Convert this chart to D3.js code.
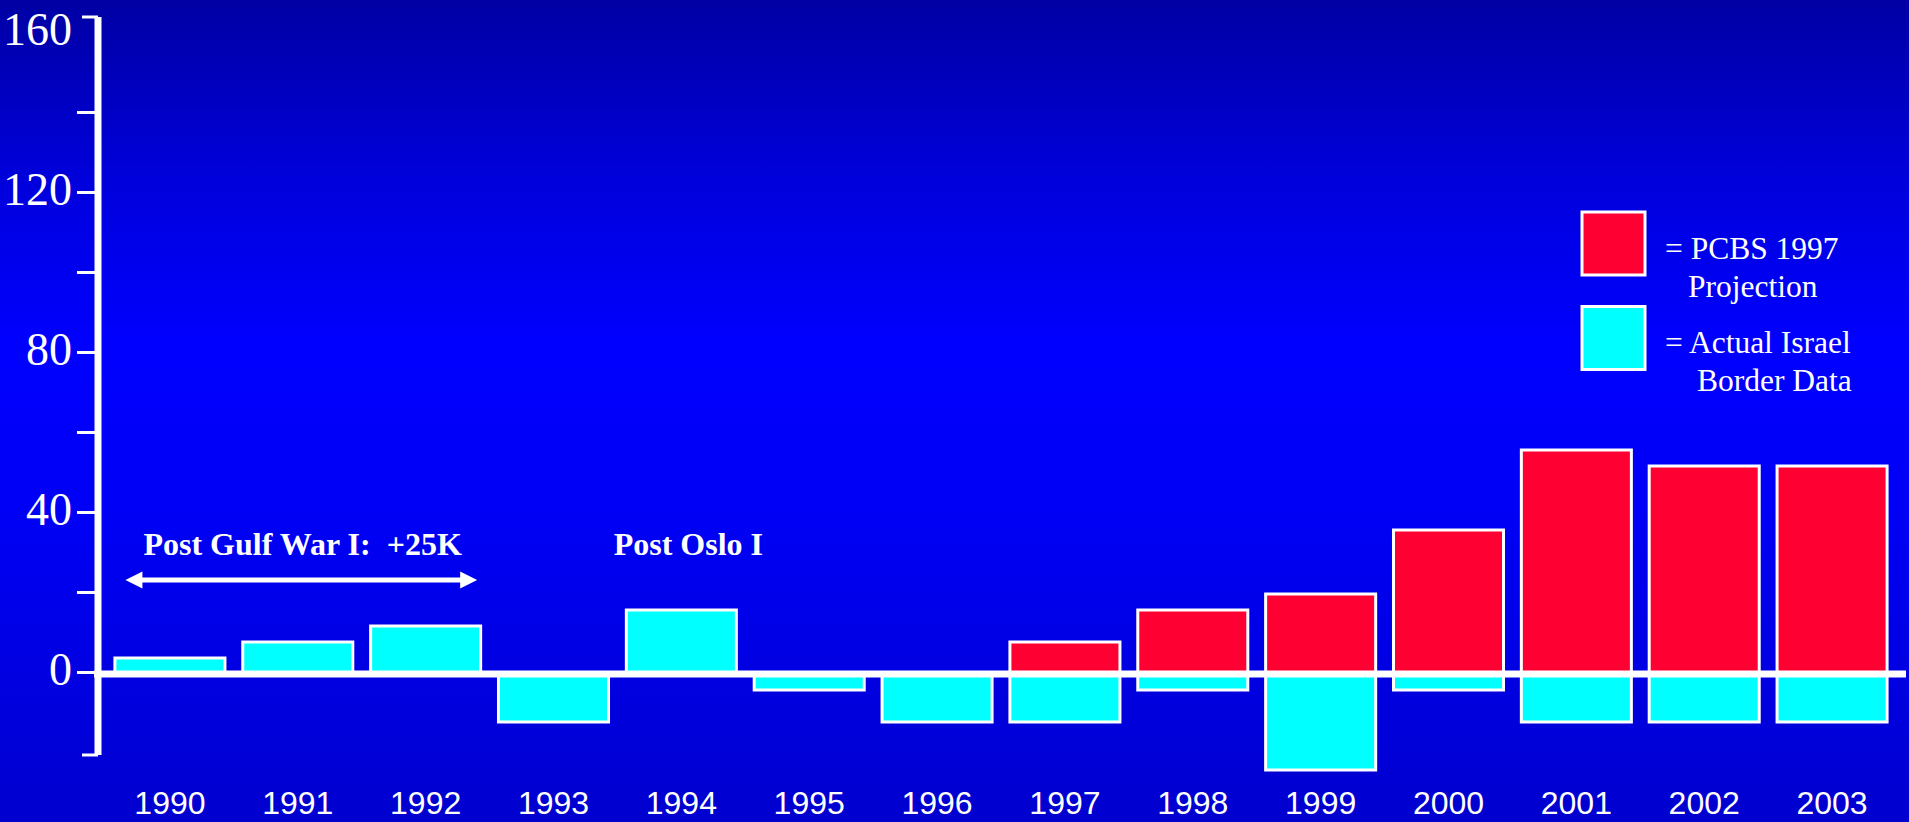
<!DOCTYPE html>
<html>
<head>
<meta charset="utf-8">
<script src="https://cdn.jsdelivr.net/npm/d3@7"></script>
<style>
  html, body { margin: 0; padding: 0; overflow: hidden; background: #0000e0; }
  svg { display: block; }
</style>
</head>
<body>
<svg id="chart" width="1909" height="822"></svg>
<script>
// ---- data ----
const years = ["1990","1991","1992","1993","1994","1995","1996","1997","1998","1999","2000","2001","2002","2003"];
const actualIsrael = [4, 8, 12, -12, 16, -4, -12, -12, -4, -24, -4, -12, -12, -12];
const pcbsProjection = [null, null, null, null, null, null, null, 8, 16, 20, 36, 56, 52, 52];
const yTickValues = [0, 20, 40, 60, 80, 100, 120, 140];
const yLabelValues = [0, 40, 80, 120, 160];
const axisExtent = [-20.25, 164.25];
const legendLabels = [["= PCBS 1997", "Projection"], ["= Actual Israel", "Border Data"]];
const annotations = ["Post Gulf War I:  +25K", "Post Oslo I"];

// ---- setup ----
const W = 1909, H = 822;
const svg = d3.select("#chart");

const defs = svg.append("defs");
const grad = defs.append("linearGradient").attr("id", "bg")
  .attr("x1", 0).attr("y1", 0).attr("x2", 0).attr("y2", 1);
[[0, "#0000a4"], [0.22, "#0000dc"], [0.42, "#0000ff"], [0.62, "#0000f6"], [1, "#0000cf"]]
  .forEach(([o, c]) => grad.append("stop").attr("offset", o).attr("stop-color", c));
svg.append("rect").attr("width", W).attr("height", H).attr("fill", "url(#bg)");

const x = d3.scaleBand().domain(years).range([106, 1896]).paddingInner(0.116).paddingOuter(0.058);
const y = d3.scaleLinear().domain([0, 160]).range([674, 34]);

const RED = "#ff0033", CYAN = "#00ffff";

// ---- bars ----
const g = svg.append("g");
g.selectAll("rect.cyan").data(years.map((yr, i) => ({yr, v: actualIsrael[i]})))
  .join("rect").attr("class", "cyan")
  .attr("x", d => x(d.yr) + 1.5)
  .attr("width", x.bandwidth() - 3)
  .attr("y", d => y(Math.max(0, d.v)))
  .attr("height", d => Math.abs(y(d.v) - y(0)))
  .attr("fill", CYAN).attr("stroke", "#fff").attr("stroke-width", 3);

g.selectAll("rect.red").data(years.map((yr, i) => ({yr, v: pcbsProjection[i]})).filter(d => d.v != null))
  .join("rect").attr("class", "red")
  .attr("x", d => x(d.yr) + 1.5)
  .attr("width", x.bandwidth() - 3)
  .attr("y", d => y(Math.max(0, d.v)))
  .attr("height", d => Math.abs(y(d.v) - y(0)))
  .attr("fill", RED).attr("stroke", "#fff").attr("stroke-width", 3);

// ---- baseline ----
svg.append("line").attr("x1", 94).attr("x2", 1906)
  .attr("y1", y(0)).attr("y2", y(0))
  .attr("stroke", "#fff").attr("stroke-width", 7);

// ---- y axis ----
const axisX = 98;
const ax = svg.append("g");
ax.append("line").attr("x1", axisX).attr("x2", axisX)
  .attr("y1", y(axisExtent[1])).attr("y2", y(axisExtent[0]))
  .attr("stroke", "#fff").attr("stroke-width", 7);
[axisExtent[1], axisExtent[0]].forEach(v => {
  ax.append("line").attr("x1", 82).attr("x2", axisX)
    .attr("y1", y(v)).attr("y2", y(v))
    .attr("stroke", "#fff").attr("stroke-width", 3);
});
ax.selectAll("line.tick").data(yTickValues).join("line").attr("class", "tick")
  .attr("x1", 77).attr("x2", axisX)
  .attr("y1", d => y(d) - 1.5).attr("y2", d => y(d) - 1.5)
  .attr("stroke", "#fff").attr("stroke-width", 3);
ax.selectAll("text").data(yLabelValues).join("text")
  .attr("x", 72).attr("y", d => y(d) + 11)
  .attr("text-anchor", "end")
  .attr("font-family", "'Liberation Serif', 'Times New Roman', serif")
  .attr("font-size", 46).attr("fill", "#fff")
  .text(d => d);

// ---- x labels ----
svg.append("g").selectAll("text").data(years).join("text")
  .attr("x", d => x(d) + x.bandwidth() / 2)
  .attr("y", 814)
  .attr("text-anchor", "middle")
  .attr("font-family", "'Liberation Sans', Arial, sans-serif")
  .attr("font-size", 32).attr("fill", "#fff")
  .text(d => d);

// ---- annotations ----
const serifBold = "'Liberation Serif', 'Times New Roman', serif";
svg.append("text").attr("x", x("1990") + 30).attr("y", 555)
  .attr("font-family", serifBold).attr("font-weight", "bold")
  .attr("font-size", 32).attr("fill", "#fff")
  .style("white-space", "pre")
  .text(annotations[0]);
svg.append("text").attr("x", x("1994") + x.bandwidth() / 2 + 7).attr("y", 555)
  .attr("text-anchor", "middle")
  .attr("font-family", serifBold).attr("font-weight", "bold")
  .attr("font-size", 32).attr("fill", "#fff")
  .text(annotations[1]);

// double-headed arrow
const ax0 = x("1990") + 12, ax1 = x("1992") + x.bandwidth() - 5, ay = 580;
const hl = 17, hh = 8.5, sh = 2.5;
svg.append("path")
  .attr("d", `M${ax0},${ay} L${ax0 + hl},${ay - hh} L${ax0 + hl},${ay - sh} L${ax1 - hl},${ay - sh} L${ax1 - hl},${ay - hh} L${ax1},${ay} L${ax1 - hl},${ay + hh} L${ax1 - hl},${ay + sh} L${ax0 + hl},${ay + sh} L${ax0 + hl},${ay + hh} Z`)
  .attr("fill", "#fff");

// ---- legend ----
const lg = svg.append("g");
[[RED, 212], [CYAN, 306.5]].forEach(([c, ty]) => {
  lg.append("rect").attr("x", 1582).attr("y", ty).attr("width", 63).attr("height", 63)
    .attr("fill", c).attr("stroke", "#fff").attr("stroke-width", 3);
});
const legText = [
  {t: legendLabels[0][0], x: 1665, y: 259},
  {t: legendLabels[0][1], x: 1688, y: 297},
  {t: legendLabels[1][0], x: 1665, y: 353},
  {t: legendLabels[1][1], x: 1697, y: 391}
];
lg.selectAll("text").data(legText).join("text")
  .attr("x", d => d.x).attr("y", d => d.y)
  .attr("font-family", "'Liberation Serif', 'Times New Roman', serif")
  .attr("font-size", 31.5).attr("fill", "#fff")
  .text(d => d.t);
</script>
</body>
</html>
